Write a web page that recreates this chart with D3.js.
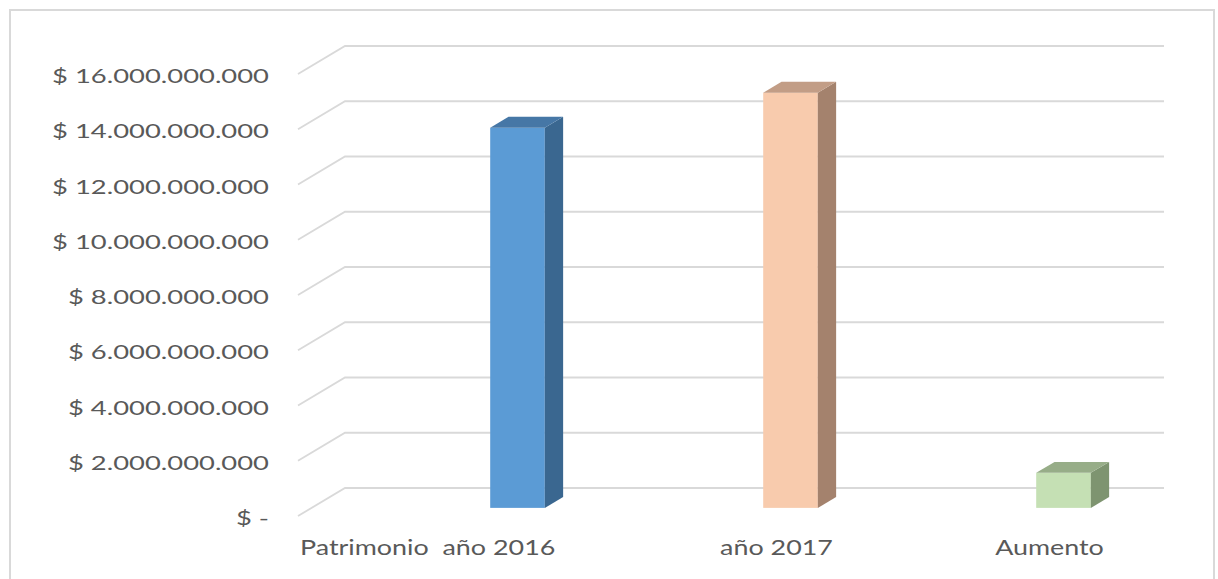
<!DOCTYPE html>
<html>
<head>
<meta charset="utf-8">
<script src="https://cdn.jsdelivr.net/npm/d3@7"></script>
<style>
  body { margin: 0; background: #fff; }
  svg text { font-family: Lato, "Open Sans", sans-serif; fill: #595959; white-space: pre; }
</style>
</head>
<body>
<div id="chart"></div>
<script>
// datos del grafico
var categories = ["Patrimonio  año 2016", "año 2017", "Aumento"];
var values = [13760000000, 15030000000, 1270000000];
var tickValues = [0, 2e9, 4e9, 6e9, 8e9, 10e9, 12e9, 14e9, 16e9];
var frontColors = ["#5b9bd5", "#f8cbad", "#c5e0b4"];
var sideColors = ["#3a6790", "#a4826d", "#7e9470"];
var topColors = ["#4677a6", "#c29d86", "#97ad88"];

var width = 1218, height = 579;

var svg = d3.select('#chart').append('svg')
    .attr('width', width)
    .attr('height', height);

// borde del area del grafico
svg.append('rect')
    .attr('x', 10).attr('y', 10)
    .attr('width', 1204).attr('height', 600)
    .attr('fill', 'none')
    .attr('stroke', '#d9d9d9')
    .attr('stroke-width', 2);

// pared del fondo y profundidad (frente - fondo)
var backLeft = 345, backRight = 1164;
var depth = { dx: -47, dy: 28 };

var y = d3.scaleLinear().domain([0, 16e9]).range([488, 46]);

var loc = d3.formatLocale({ decimal: ",", thousands: ".", grouping: [3], currency: ["$ ", ""] });
var fmt = loc.format("$,.0f");
var tickFmt = function (d) { return d === 0 ? "$ -" : fmt(d); };

// lineas de division
var grid = svg.append('g');
grid.selectAll('path')
    .data(tickValues)
    .enter().append('path')
    .attr('d', d => 'M' + (backLeft + depth.dx) + ',' + (y(d) + depth.dy) +
        'L' + backLeft + ',' + y(d) + 'L' + backRight + ',' + y(d))
    .attr('fill', 'none')
    .attr('stroke', '#d9d9d9')
    .attr('stroke-width', 1.8);

// etiquetas del eje vertical
grid.selectAll('text')
    .data(tickValues)
    .enter().append('text')
    .attr('transform', d => 'translate(269,' + (y(d) + depth.dy + 2) + ') scale(1.37,1)')
    .attr('text-anchor', 'end')
    .attr('dy', '0.35em')
    .style('font-size', '20px')
    .text(tickFmt);

// barras en 3D
var barFront = 0.71, barBack = 0.32;
var x = d3.scaleBand()
    .domain(categories)
    .range([381, 1200])
    .paddingInner(0.8)
    .paddingOuter(0.4);

var bdx = (barBack - barFront) * depth.dx; // hacia el fondo
var bdy = (barBack - barFront) * depth.dy;

var bars = svg.append('g').selectAll('g')
    .data(categories)
    .enter().append('g');

bars.each(function (c, i) {
    var g = d3.select(this);
    var x0 = x(c), x1 = x(c) + x.bandwidth();
    var yt = y(values[i]) + barFront * depth.dy;
    var yb = y(0) + barFront * depth.dy;
    g.append('rect')
        .attr('x', x0).attr('y', yt)
        .attr('width', x1 - x0).attr('height', yb - yt)
        .attr('fill', frontColors[i]);
    g.append('path')
        .attr('d', 'M' + x1 + ',' + yt + 'L' + (x1 + bdx) + ',' + (yt + bdy) +
            'L' + (x1 + bdx) + ',' + (yb + bdy) + 'L' + x1 + ',' + yb + 'Z')
        .attr('fill', sideColors[i]);
    g.append('path')
        .attr('d', 'M' + x0 + ',' + yt + 'L' + (x0 + bdx) + ',' + (yt + bdy) +
            'L' + (x1 + bdx) + ',' + (yt + bdy) + 'L' + x1 + ',' + yt + 'Z')
        .attr('fill', topColors[i]);
});

// etiquetas de categorias
var catLabels = svg.append('g').selectAll('text')
    .data(categories)
    .enter().append('text')
    .attr('y', 555)
    .style('font-size', '21px')
    .text(d => d);

catLabels.each(function (d) {
    var t = d3.select(this);
    var cx = x(d) + x.bandwidth() / 2 - 14;
    var w = this.getComputedTextLength() * 1.28;
    // etiqueta larga: se alinea al inicio del eje
    if (w > x.step() * 0.9) {
        t.attr('transform', 'translate(' + (backLeft + depth.dx + 2) + ',0) scale(1.28,1)')
            .attr('text-anchor', 'start');
    } else {
        t.attr('transform', 'translate(' + cx + ',0) scale(1.28,1)')
            .attr('text-anchor', 'middle');
    }
});
</script>
</body>
</html>
